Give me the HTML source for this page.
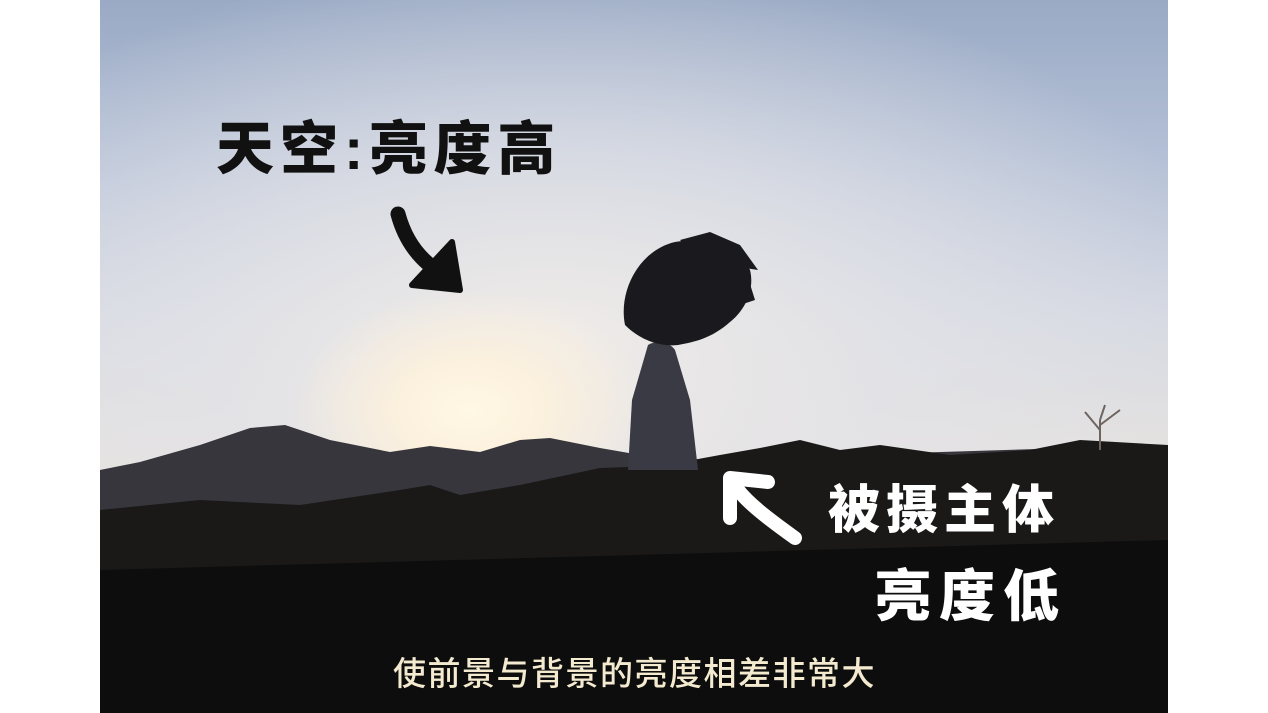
<!DOCTYPE html>
<html><head><meta charset="utf-8">
<style>
html,body{margin:0;padding:0;width:1268px;height:713px;background:#fff;overflow:hidden}
#photo{position:absolute;left:100px;top:0;width:1068px;height:713px;overflow:hidden;
background:
radial-gradient(ellipse 180px 120px at 370px 410px, rgba(255,248,228,1) 0%, rgba(255,242,220,0.85) 40%, rgba(250,240,225,0) 100%),
radial-gradient(ellipse 700px 380px at 450px 340px, rgba(240,236,232,0.95) 0%, rgba(228,228,232,0.7) 50%, rgba(210,218,230,0) 100%),
linear-gradient(180deg,#9aaac5 0%,#b4c0d6 22%,#d4d8e2 45%,#e6e2de 65%,#e8e0d8 75%);}
.txt{position:absolute;font-family:"Liberation Sans","Noto Sans CJK SC",sans-serif;font-weight:900;white-space:nowrap}
</style></head><body>
<div id="photo">
<svg width="1068" height="713" style="position:absolute;left:0;top:0">
<path d="M0 470 L40 462 L100 445 L150 428 L185 425 L230 440 L290 452 L330 446 L380 452 L420 440 L450 438 L500 448 L540 455 L580 460 L1068 445 L1068 713 L0 713Z" fill="#37363c"/>
<path d="M0 510 L100 500 L200 505 L300 490 L330 485 L360 495 L420 485 L500 468 L560 466 L620 455 L660 448 L700 440 L740 450 L780 445 L850 455 L930 450 L980 440 L1068 445 L1068 713 L0 713Z" fill="#1a1918"/>
<path d="M0 570 L1068 540 L1068 713 L0 713Z" fill="#0e0d0d"/>
<g fill="#1a1a1e">
<path d="M548 345 C556 340 570 342 575 350 L590 400 L598 470 L528 470 L532 400 Z" fill="#3a3a44"/>
<path d="M525 325 C518 290 540 250 575 242 C610 236 640 250 650 270 C655 290 645 310 630 322 C612 338 595 342 578 345 C560 347 540 340 525 325Z"/>
<path d="M580 240 L610 232 L640 245 L658 270 L645 268 L655 300 L640 305 Z"/>
</g>
<g stroke="#6d6460" stroke-width="2" fill="none">
<path d="M1000 450 L1000 420 M1000 430 L985 412 M1000 425 L1020 410 M1000 420 L1005 405"/>
</g>
<path d="M298 214 C305 240 320 262 345 275" stroke="#111" stroke-width="15" stroke-linecap="round" fill="none"/>
<path d="M312 285 L360 290 L352 242 Z" fill="#111" stroke="#111" stroke-width="6" stroke-linejoin="round"/>
<path d="M695 538 C670 520 650 505 638 490" stroke="#fff" stroke-width="14" stroke-linecap="round" fill="none"/>
<path d="M630 478 L630 518 M630 478 L668 482" stroke="#fff" stroke-width="14" stroke-linecap="round" fill="none"/>
</svg>
<div class="txt" style="left:116px;top:102px;font-size:58px;color:#111;letter-spacing:6px">天空:亮度高</div>
<div class="txt" style="left:728px;top:468px;font-size:52px;color:#fff;letter-spacing:6px">被摄主体</div>
<div class="txt" style="left:775px;top:552px;font-size:56px;color:#fff;letter-spacing:8px">亮度低</div>
<div class="txt" style="left:293px;top:647px;font-size:33px;font-weight:500;color:#f3ead0;letter-spacing:1.5px">使前景与背景的亮度相差非常大</div>
</div>
</body></html>
